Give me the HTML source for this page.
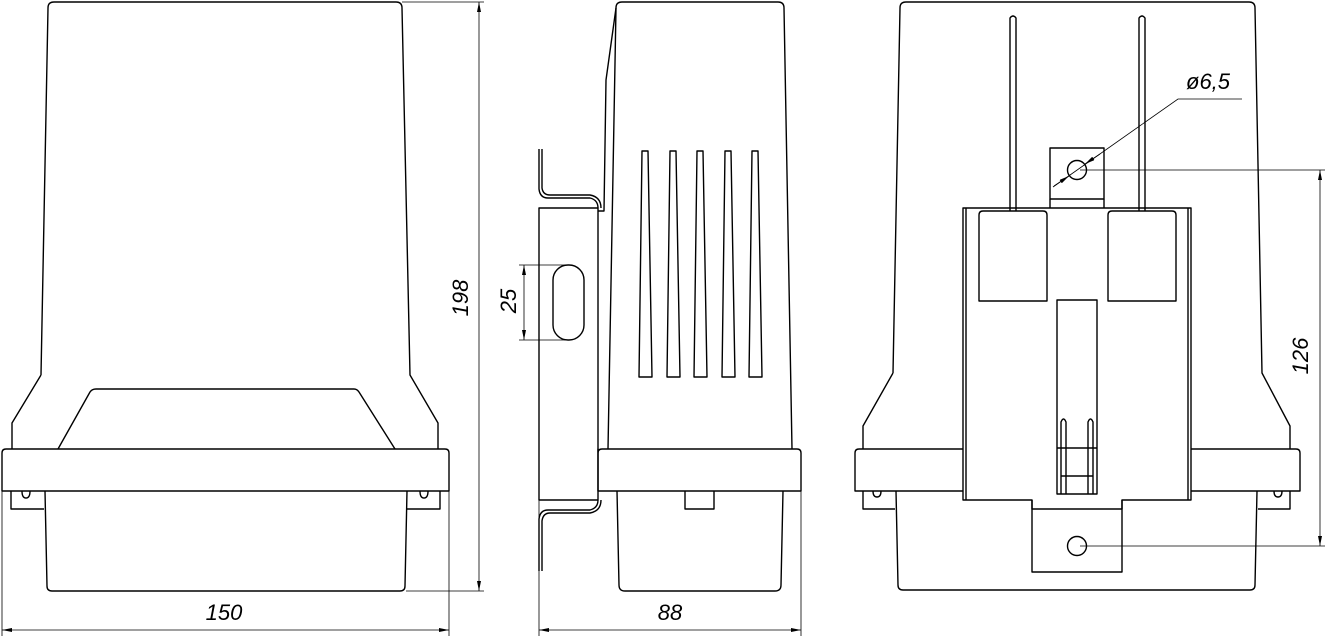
<!DOCTYPE html>
<html><head><meta charset="utf-8"><style>
html,body{margin:0;padding:0;background:#fff;width:1328px;height:638px;overflow:hidden}
svg{display:block}
text{font-family:"Liberation Sans",sans-serif;font-style:italic;font-size:22px;fill:#000}
</style></head><body>
<svg width="1328" height="638" viewBox="0 0 1328 638" xmlns="http://www.w3.org/2000/svg">
<defs>
<marker id="a" viewBox="0 0 10 4" refX="10" refY="2" markerWidth="12" markerHeight="4" orient="auto-start-reverse" markerUnits="userSpaceOnUse"><path d="M0,0 L10,2 L0,4 Z" fill="#000"/></marker>
</defs>
<g fill="none" stroke="#000" stroke-width="1.4" stroke-linejoin="round">
<!-- LEFT VIEW -->
<path d="M41,375 L48,8 Q48,2 54,2 L396,2 Q402,2 402,8 L410,375 L438,423 L438,449 M41,375 L12,423 L12,449"/>
<path d="M58,449 L90,392 Q92,389 96,389 L354,389 Q357,389 359,392 L395,449"/>
<path d="M2,491 L2,453 Q2,449 6,449 L445,449 Q449,449 449,453 L449,491 Z"/>
<path d="M45,491 L47,586 Q47,591 52,591 L400,591 Q405,591 405,586 L407,491"/>
<path d="M11,491 L11,509 L44,509 M440,491 L440,509 L406,509"/>
<path d="M22,491 Q22,498 26,498 Q30,498 30,491 M420,491 Q420,498 424,498 Q428,498 428,491"/>
<!-- MIDDLE VIEW -->
<path d="M608,449 L616,8 Q616,2 622,2 L778,2 Q784,2 784,8 L792,449"/>
<path d="M616,8 L606,80 L604,211 L598,211"/>
<path d="M598,449 L598,453 Q598,449 602,449 L797,449 Q801,449 801,453 L801,491 L598,491 Z"/>
<path d="M617,491 L619,585 Q619,591 625,591 L775,591 Q781,591 781,585 L783,491"/>
<path d="M685,491 L685,509 L714,509 L714,491"/>
<path d="M539,208 L598,208 L598,500 L539,500 Z"/>
<path d="M539,149 L539,189 Q540,198 548,198 L590,198 Q598,200 598,208 M542,149 L542,188 Q543,195 550,195 L590,195 Q601,197 601,208"/>
<path d="M539,571 L539,519 Q540,510 548,510 L590,510 Q598,508 598,500 M542,571 L542,521 Q543,513 550,513 L590,513 Q601,511 601,500"/>
<rect x="553" y="265" width="31" height="75" rx="15"/>
<path d="M642,151 L648,151 L652,377 L639,377 Z"/>
<path d="M670,151 L676,151 L680,377 L667,377 Z"/>
<path d="M697,151 L703,151 L707,377 L694,377 Z"/>
<path d="M725,151 L731,151 L735,377 L722,377 Z"/>
<path d="M752,151 L758,151 L762,377 L749,377 Z"/>
<!-- RIGHT VIEW -->
<path d="M893,373 L900,8 Q900,2 906,2 L1249,2 Q1255,2 1255,8 L1262,373 L1290,426 L1290,449 M893,373 L863,426 L863,449"/>
<path d="M855,491 L855,453 Q855,449 859,449 L1296,449 Q1300,449 1300,453 L1300,491 Z"/>
<path d="M896,491 L898,585 Q898,590 903,590 L1250,590 Q1255,590 1255,585 L1257,491"/>
<path d="M863,491 L863,509 L895,509 M1290,491 L1290,509 L1258,509"/>
<path d="M873,491 Q873,497 877,497 Q881,497 881,491 M1274,491 Q1274,497 1278,497 Q1282,497 1282,491"/>
<path d="M963,208 L1191,208 L1191,500 L1122,500 L1122,509 L1032,509 L1032,500 L963,500 Z" fill="#fff"/>
<path d="M966,208 L966,500 M1188,208 L1188,500"/>
<path d="M1032,500 L1032,572 L1122,572 L1122,500"/>
<rect x="1050" y="148" width="54" height="51" fill="#fff"/>
<path d="M1050,199 L1050,208 M1104,199 L1104,208"/>
<circle cx="1077" cy="170" r="9.5"/>
<circle cx="1077" cy="546" r="9.5"/>
<path d="M979,301 L979,215 Q979,211 983,211 L1043,211 Q1047,211 1047,215 L1047,301 Z"/>
<path d="M1108,301 L1108,215 Q1108,211 1112,211 L1172,211 Q1176,211 1176,215 L1176,301 Z"/>
<path d="M1010,211 L1010,18 Q1013,14 1016,18 L1016,211"/>
<path d="M1139,211 L1139,18 Q1142,14 1145,18 L1145,211"/>
<rect x="1057" y="300" width="40" height="194"/>
<path d="M1061,494 L1061,422 Q1063.5,416 1066,422 L1066,494 M1088,494 L1088,422 Q1090.5,416 1093,422 L1093,494 M1061,476 L1093,476 M1057,448 L1097,448"/>
</g>
<!-- DIMENSIONS -->
<g fill="none" stroke="#000" stroke-width="0.8">
<path d="M402,2 L484,2 M406,591 L484,591"/>
<line x1="479" y1="2" x2="479" y2="591" marker-start="url(#a)" marker-end="url(#a)"/>
<path d="M2,491 L2,636 M449,491 L449,636"/>
<line x1="2" y1="630" x2="449" y2="630" marker-start="url(#a)" marker-end="url(#a)"/>
<path d="M519,265 L566,265 M519,340 L566,340"/>
<line x1="524" y1="265" x2="524" y2="340" marker-start="url(#a)" marker-end="url(#a)"/>
<path d="M539,500 L539,636 M801,491 L801,636"/>
<line x1="539" y1="630" x2="801" y2="630" marker-start="url(#a)" marker-end="url(#a)"/>
<path d="M1053,187 L1178,99 L1242,99"/>
<line x1="1054" y1="186" x2="1069" y2="176" marker-end="url(#a)"/>
<line x1="1100" y1="154" x2="1085" y2="164" marker-end="url(#a)"/>
<path d="M1080,170 L1325,170 M1080,546 L1325,546"/>
<line x1="1320" y1="170" x2="1320" y2="546" marker-start="url(#a)" marker-end="url(#a)"/>
</g>
<text x="224" y="620" text-anchor="middle">150</text>
<text x="670" y="620" text-anchor="middle">88</text>
<text x="1186" y="89">ø6,5</text>
<text transform="translate(468,298) rotate(-90)" text-anchor="middle">198</text>
<text transform="translate(516,301) rotate(-90)" text-anchor="middle">25</text>
<text transform="translate(1308,356) rotate(-90)" text-anchor="middle">126</text>
</svg>
</body></html>
